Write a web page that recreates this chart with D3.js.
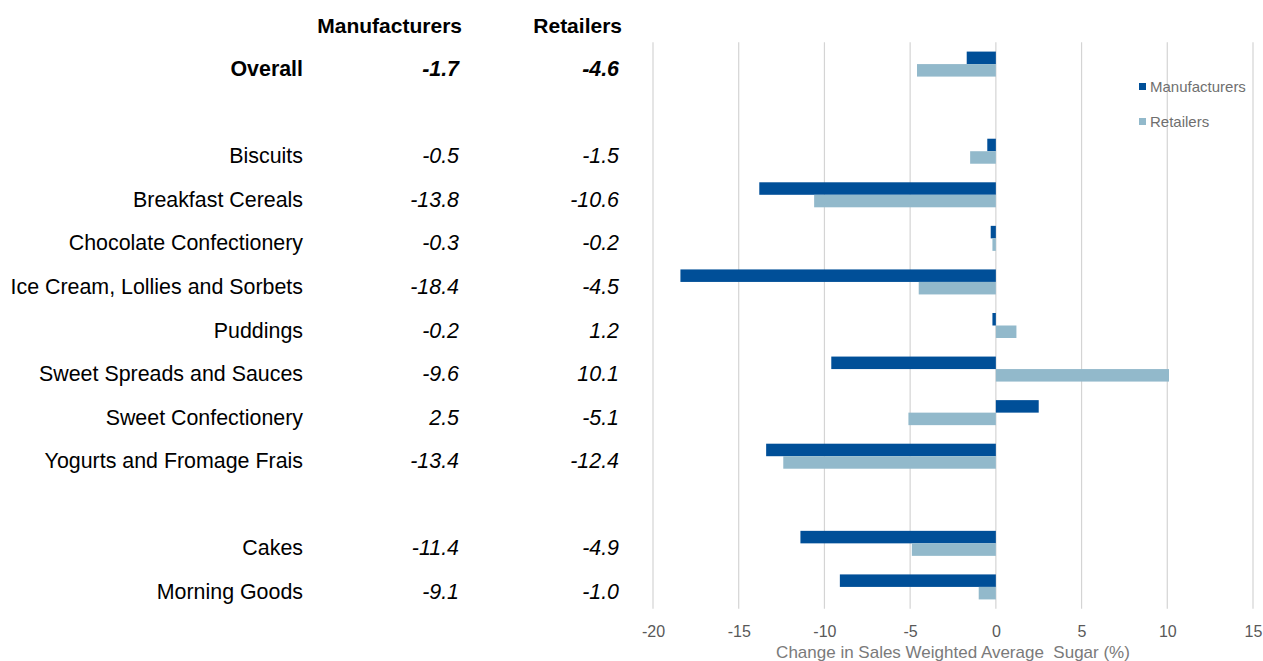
<!DOCTYPE html>
<html>
<head>
<meta charset="utf-8">
<script src="https://cdn.jsdelivr.net/npm/d3@7"></script>
<style>
  html, body { margin: 0; padding: 0; background: #fff; }
  svg { display: block; font-family: "Liberation Sans", Arial, sans-serif; }
</style>
</head>
<body>
<svg id="chart" width="1263" height="661"></svg>
<script>
// Row labels (empty strings are spacer rows between groups)
const categories = [
  "Overall", "", "Biscuits", "Breakfast Cereals", "Chocolate Confectionery",
  "Ice Cream, Lollies and Sorbets", "Puddings", "Sweet Spreads and Sauces",
  "Sweet Confectionery", "Yogurts and Fromage Frais", "", "Cakes", "Morning Goods"
];
// % change in sales weighted average sugar (null = spacer row)
const manufacturers = [-1.7, null, -0.5, -13.8, -0.3, -18.4, -0.2, -9.6, 2.5, -13.4, null, -11.4, -9.1];
const retailers     = [-4.6, null, -1.5, -10.6, -0.2, -4.5, 1.2, 10.1, -5.1, -12.4, null, -4.9, -1.0];
const seriesNames = ["Manufacturers", "Retailers"];
const seriesColors = ["#004f98", "#92b9cb"];
const xTicks = [-20, -15, -10, -5, 0, 5, 10, 15];
const axisTitle = "Change in Sales Weighted Average\u00a0 Sugar (%)";

const svg = d3.select("#chart");
const rowIds = categories.map((c, i) => i);

const x = d3.scaleLinear().domain([-20, 15]).range([653, 1253]);
const y = d3.scaleBand().domain(rowIds).range([42.3, 608.7])
  .paddingInner(0.426).paddingOuter(0.213);
const ySub = d3.scaleBand().domain(seriesNames).range([0, y.bandwidth()]);

// vertical gridlines
svg.append("g").selectAll("line").data(xTicks).join("line")
  .attr("x1", d => x(d)).attr("x2", d => x(d))
  .attr("y1", 42.3).attr("y2", 608.7)
  .attr("stroke", "#d4d4d4").attr("stroke-width", 1.2);

// tick labels (plain hyphen for negatives)
const xAxis = d3.axisBottom(x).tickValues(xTicks).tickSize(0).tickPadding(0).tickFormat(d => String(d));
const gx = svg.append("g").attr("transform", "translate(0,622)").call(xAxis);
gx.select(".domain").remove();
gx.selectAll("text").attr("font-size", 16).attr("fill", "#595959")
  .attr("font-family", "Liberation Sans, Arial, sans-serif").attr("dy", "0.95em");

// axis title
svg.append("text").attr("x", (x(-20) + x(15)) / 2).attr("y", 658)
  .attr("text-anchor", "middle").attr("font-size", 17).attr("fill", "#7a7a7a")
  .text(axisTitle);

// bars
const data = [manufacturers, retailers];
data.forEach((vals, si) => {
  svg.append("g").selectAll("rect")
    .data(rowIds.filter(i => vals[i] !== null))
    .join("rect")
    .attr("x", i => x(Math.min(0, vals[i])))
    .attr("width", i => Math.abs(x(vals[i]) - x(0)))
    .attr("y", i => y(i) + ySub(seriesNames[si]))
    .attr("height", ySub.bandwidth())
    .attr("fill", seriesColors[si]);
});

// table: column headers
const colX = [462, 622];
svg.append("g").selectAll("text").data(seriesNames).join("text")
  .attr("x", (d, i) => colX[i]).attr("y", 33)
  .attr("text-anchor", "end").attr("font-size", 21).attr("font-weight", "bold")
  .attr("fill", "#000").text(d => d);

// table: row labels and values
const rows = rowIds.filter(i => categories[i] !== "");
const tbl = svg.append("g");
tbl.selectAll("text.cat").data(rows).join("text").attr("class", "cat")
  .attr("x", 303).attr("y", i => y(i) + y.bandwidth() / 2 + 12)
  .attr("text-anchor", "end").attr("font-size", 21.4)
  .attr("font-weight", i => i === 0 ? "bold" : "normal")
  .attr("fill", "#000").text(i => categories[i]);

data.forEach((vals, si) => {
  tbl.selectAll("text.v" + si).data(rows).join("text").attr("class", "v" + si)
    .attr("x", colX[si] - 3).attr("y", i => y(i) + y.bandwidth() / 2 + 12)
    .attr("text-anchor", "end").attr("font-size", 21.4).attr("font-style", "italic")
    .attr("font-weight", i => i === 0 ? "bold" : "normal")
    .attr("fill", "#000").text(i => vals[i].toFixed(1));
});

// legend
const lg = svg.append("g").selectAll("g").data(seriesNames).join("g")
  .attr("transform", (d, i) => `translate(1139,${86.5 + i * 35})`);
lg.append("rect").attr("x", 0).attr("y", -3.5).attr("width", 7).attr("height", 7)
  .attr("fill", (d, i) => seriesColors[i]);
lg.append("text").attr("x", 11).attr("y", 0).attr("dy", "0.35em")
  .attr("font-size", 15).attr("fill", "#6f6f6f").text(d => d);
</script>
</body>
</html>
